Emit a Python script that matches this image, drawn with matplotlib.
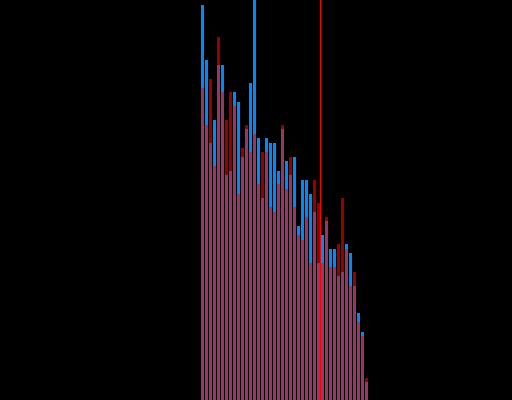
import matplotlib
matplotlib.use("Agg")
import matplotlib.pyplot as plt
import numpy as np

# Heights of the two histogram series (bin index 0..41)
blue_counts = [395, 340, 257, 280, 335, 335, 225, 229, 308, 298,
               243, 271, 317, 410, 262, 202, 262, 257, 257, 229,
               271, 239, 225, 243, 174, 220, 220, 206, 188, 137,
               165, 179, 151, 151, 124, 128, 156, 147, 114, 87,
               68, 18]
red_counts = [312, 275, 321, 234, 363, 308, 280, 308, 294, 206,
              252, 275, 248, 266, 216, 248, 248, 193, 188, 216,
              275, 211, 243, 193, 165, 160, 183, 137, 220, 197,
              137, 183, 133, 133, 156, 202, 151, 114, 128, 78,
              64, 22]
marker_pos = 29.4

bins = np.arange(len(blue_counts))

fig = plt.figure(figsize=(5.12, 4.0), dpi=100)
fig.patch.set_facecolor("black")
ax = fig.add_axes([0, 0, 1, 1])
ax.set_facecolor("black")

ax.bar(bins, blue_counts, width=0.75, color="#0088ff", linewidth=0, zorder=1)
ax.bar(bins, red_counts, width=0.75, color="red", alpha=0.6, linewidth=0, zorder=2)
# 1 px wide marker line
ax.axvline(marker_pos, color="red", linewidth=0.72, antialiased=False, zorder=3)

ax.set_xlim(-50.625, 77.375)
ax.set_ylim(0, 400)
ax.axis("off")

fig.savefig("out.png", dpi=100, facecolor="black")
